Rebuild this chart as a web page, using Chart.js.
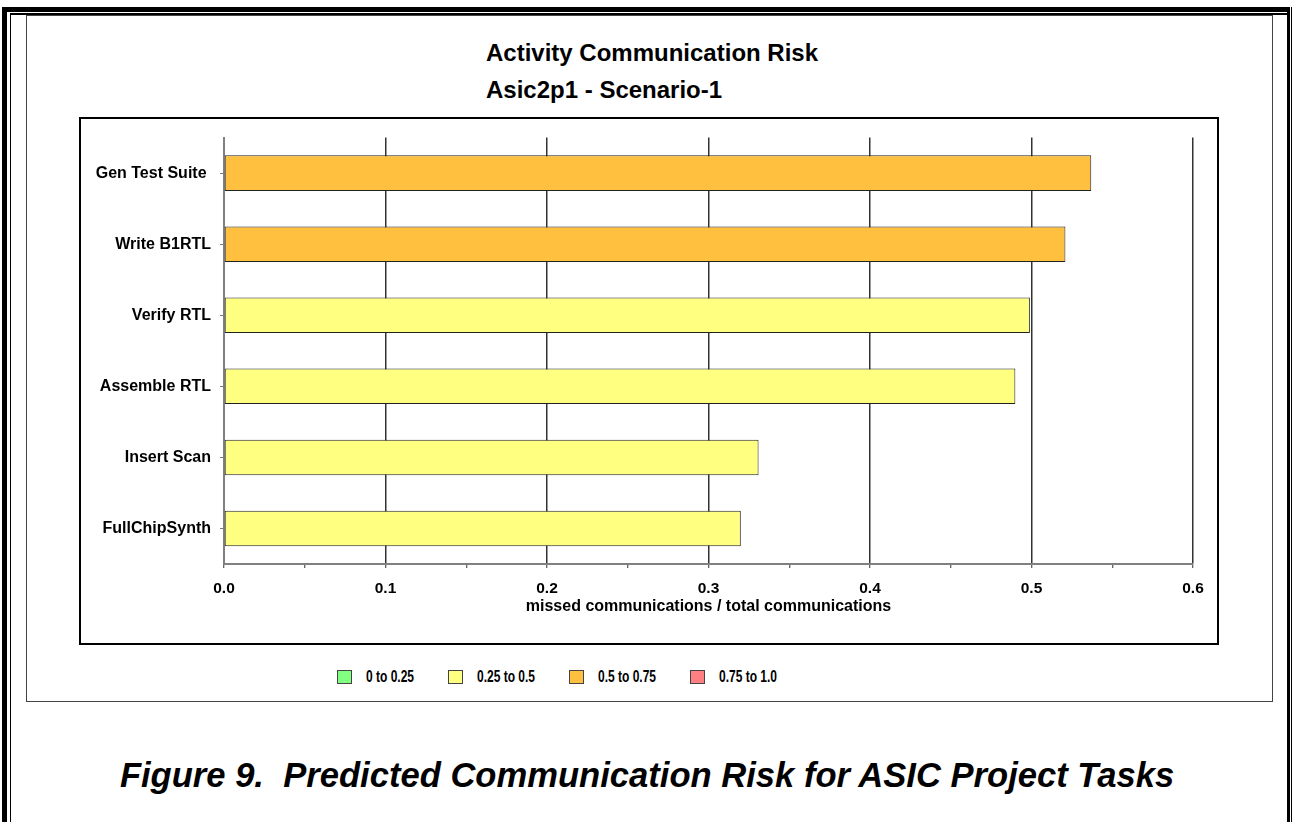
<!DOCTYPE html>
<html>
<head>
<meta charset="utf-8">
<title>Activity Communication Risk</title>
<script src="https://cdn.jsdelivr.net/npm/chart.js@4.4.1/dist/chart.umd.min.js"></script>
<style>
  html, body { margin: 0; padding: 0; background: #fff; }
  body { width: 1294px; height: 822px; position: relative; overflow: hidden;
         font-family: "Liberation Sans", Arial, sans-serif; color: #000; }
  .abs { position: absolute; }
  /* page frame (double rule, cropped at the bottom) */
  #frameL1 { left: 2px; top: 7px; width: 5px; height: 815px; background: #000; }
  #frameL2 { left: 10px; top: 13px; width: 1px; height: 809px; background: #000; }
  #frameT1 { left: 2px; top: 7px; width: 1288px; height: 5px; background: #000; }
  #frameT2 { left: 10px; top: 13px; width: 1278px; height: 2px; background: #000; }
  #frameR1 { left: 1287px; top: 7px; width: 3px; height: 815px; background: #000; }
  #frameR2 { left: 1291px; top: 7px; width: 1px; height: 815px; background: #000; }
  /* chart object box */
  #chartBox { left: 26px; top: 15px; width: 1245px; height: 685px; border: 1px solid #444; }
  /* plot area box */
  #plotBox { left: 79px; top: 117px; width: 1136px; height: 524px; border: 2px solid #000; }
  #plotBox canvas { display: block; }
  .title { font-weight: bold; font-size: 24px; line-height: 24px; white-space: pre; }
  #title1 { left: 486px; top: 41px; }
  #title2 { left: 486px; top: 78px; }
  #legend { left: 337px; top: 668px; display: flex; align-items: center; height: 18px;
            font-weight: bold; font-size: 16px; }
  .item { display: flex; align-items: center; margin-right: 34px; }
  .swatch { width: 13px; height: 12px; border: 1px solid #444; margin-right: 14px; }
  .lbl { display: inline-block; transform: scaleX(0.75); transform-origin: left center; white-space: pre; }
  #caption { left: 0; top: 758px; width: 1294px; text-align: center; font-weight: bold;
             font-style: italic; font-size: 34.6px; line-height: 34px; white-space: pre; }
</style>
</head>
<body>
<div class="abs" id="frameT1"></div>
<div class="abs" id="frameT2"></div>
<div class="abs" id="frameL1"></div>
<div class="abs" id="frameL2"></div>
<div class="abs" id="frameR1"></div>
<div class="abs" id="frameR2"></div>
<div class="abs" id="chartBox"></div>
<div class="abs title" id="title1">Activity Communication Risk</div>
<div class="abs title" id="title2">Asic2p1 - Scenario-1</div>
<div class="abs" id="plotBox"><canvas id="riskChart" width="1136" height="524"></canvas></div>
<div class="abs" id="legend"></div>
<div class="abs" id="caption">Figure 9.  Predicted Communication Risk for ASIC Project Tasks</div>

<script>
// ---------- Data ----------
const tasks = ['Gen Test Suite ', 'Write B1RTL', 'Verify RTL', 'Assemble RTL', 'Insert Scan', 'FullChipSynth'];
const riskValues = [0.537, 0.521, 0.499, 0.490, 0.331, 0.320];

// risk bands (legend)
const bandLabels = ['0 to 0.25', '0.25 to 0.5', '0.5 to 0.75', '0.75 to 1.0'];
const bandLow = [0, 0.25, 0.5, 0.75];
const bandHigh = [0.25, 0.5, 0.75, 1.0];
const bandColors = ['#80FF80', '#FFFF80', '#FFC040', '#FF8080'];

const xTitle = 'missed communications / total communications';

// ---------- Helpers ----------
const FONT = '"Liberation Sans", Arial, sans-serif';
const isMajor = (v) => Math.round(v * 100) % 10 === 0;

// one dataset per band, bar only present where the value falls in that band
const datasets = bandLabels.map((label, i) => ({
  label,
  data: riskValues.map((v) => (v >= bandLow[i] && v < bandHigh[i] ? v : null)),
  backgroundColor: bandColors[i],
  borderColor: '#222',
  borderWidth: 1,
  borderSkipped: false,
  barPercentage: 0.5,
  categoryPercentage: 1.0,
}));

// HTML legend built from the band arrays (narrow text like the original)
const legendEl = document.getElementById('legend');
bandLabels.forEach((label, i) => {
  const item = document.createElement('div');
  item.className = 'item';
  const sw = document.createElement('div');
  sw.className = 'swatch';
  sw.style.background = bandColors[i];
  const txt = document.createElement('span');
  txt.className = 'lbl';
  txt.textContent = label;
  item.appendChild(sw);
  item.appendChild(txt);
  legendEl.appendChild(item);
  // scaleX doesn't change layout width, so pull the next item back
  txt.style.marginRight = -(txt.offsetWidth * 0.25) + 'px';
});

new Chart(document.getElementById('riskChart'), {
  type: 'bar',
  data: { labels: tasks, datasets },
  options: {
    indexAxis: 'y',
    responsive: false,
    animation: false,
    layout: { padding: { left: 0, right: 24, top: 18, bottom: 0 } },
    plugins: {
      legend: { display: false },
      title: { display: false },
      tooltip: { enabled: false },
    },
    scales: {
      x: {
        stacked: true,
        min: 0,
        max: 0.6,
        afterFit: (s) => { s.height = 79; },
        border: { color: '#808080', width: 2 },
        grid: {
          color: (ctx) => (ctx.tick && isMajor(ctx.tick.value) && ctx.tick.value > 0 ? '#333' : 'rgba(0,0,0,0)'),
          lineWidth: 1.5,
          tickLength: 4,
          tickColor: '#333',
          tickWidth: 1,
        },
        ticks: {
          stepSize: 0.05,
          autoSkip: false,
          maxRotation: 0,
          padding: 11,
          color: '#000',
          font: { family: FONT, size: 15.5, weight: 'bold' },
          callback: (v) => (isMajor(v) ? Number(v).toFixed(1) : ''),
        },
        title: {
          display: true,
          text: xTitle,
          color: '#000',
          font: { family: FONT, size: 16, weight: 'bold' },
          padding: { top: 0, bottom: 27 },
        },
      },
      y: {
        stacked: true,
        afterFit: (s) => { s.width = 143; },
        border: { color: '#808080', width: 2 },
        grid: {
          drawOnChartArea: false,
          offset: false,
          tickLength: 4,
          tickColor: '#777',
        },
        ticks: {
          padding: 9,
          color: '#000',
          font: { family: FONT, size: 16, weight: 'bold' },
        },
      },
    },
  },
});
</script>
</body>
</html>
